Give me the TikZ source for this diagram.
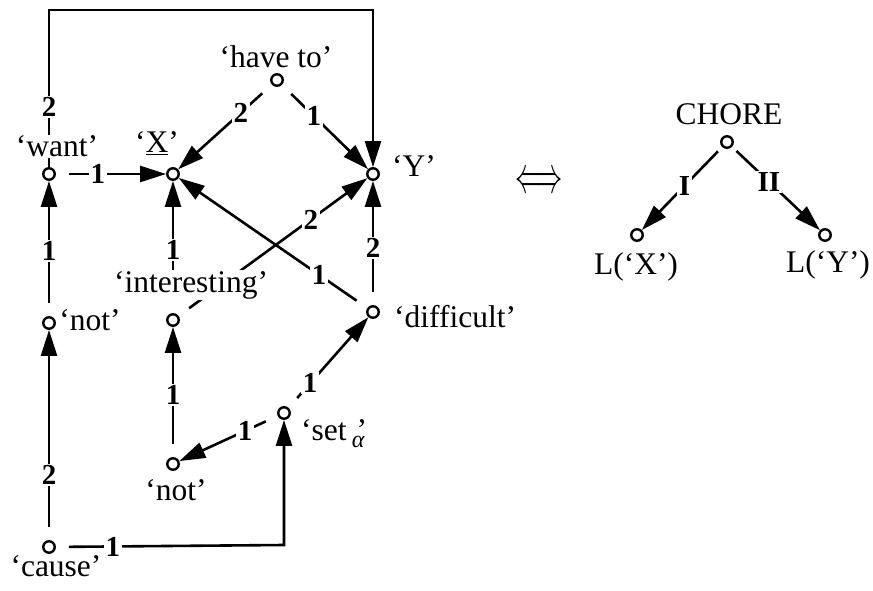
\documentclass[tikz,border=0pt]{standalone}
\usepackage{fontspec}
\setmainfont{Liberation Serif}
\usetikzlibrary{arrows.meta}
\begin{document}
\begin{tikzpicture}[x=1pt,y=-1pt,
  dot/.style={circle,draw,line width=2.4pt,minimum size=11.5pt,inner sep=0pt,fill=white},
  conn/.style={line width=2.6pt,-{Triangle[length=26pt,width=16pt]},shorten <=13pt},
  lab/.style={font=\fontsize{29}{29}\selectfont\bfseries,fill=white,inner sep=1.5pt},
  txt/.style={font=\fontsize{31.5}{31.5}\selectfont,anchor=base,inner sep=1pt}]
\useasboundingbox (0,0) rectangle (873,591);
% nodes
\node[dot] (want) at (49,174) {};
\node[dot] (X) at (173,174) {};
\node[dot] (have) at (277,80) {};
\node[dot] (Y) at (373,174) {};
\node[dot] (not1) at (49,323) {};
\node[dot] (int) at (173,320) {};
\node[dot] (diff) at (373,312) {};
\node[dot] (set) at (284,413) {};
\node[dot] (not2) at (173,464) {};
\node[dot] (cause) at (49,547) {};
\node[dot] (chore) at (727,142) {};
\node[dot] (lx) at (637,235) {};
\node[dot] (ly) at (825,235) {};
\coordinate (tl) at (49,10);
\coordinate (tr) at (373,10);
\coordinate (corner) at (284,545);
% connectors
\draw[conn,shorten <=0pt] (want) -- node[lab,pos=0.38]{2} (tl) -- (tr) -- (Y);
\draw[conn] (want) -- node[lab,pos=0.38]{1} (X);
\draw[conn] (have) -- node[lab,pos=0.33]{2} (X);
\draw[conn] (have) -- node[lab,pos=0.37]{1} (Y);
\draw[conn] (not1) -- node[lab,pos=0.48]{1} (want);
\draw[conn] (int) -- node[lab,pos=0.48]{1} (X);
\draw[conn] (int) -- node[lab,pos=0.70]{2} (Y);
\draw[conn] (diff) -- node[lab,pos=0.46]{2} (Y);
\draw[conn] (diff) -- node[lab,pos=0.255]{1} (X);
\draw[conn] (not2) -- node[lab,pos=0.48]{1} (int);
\draw[conn] (set) -- node[lab,pos=0.27]{1} (diff);
\draw[conn] (set) -- node[lab,pos=0.33]{1} (not2);
\draw[conn] (cause) -- node[lab,pos=0.31]{2} (not1);
\draw[conn] (cause) -- node[lab,pos=0.25]{1} (corner) -- (set);
\draw[conn,shorten <=6pt] (chore) -- node[lab,pos=0.47]{I} (lx);
\draw[conn,shorten <=6pt] (chore) -- node[lab,pos=0.42]{II} (ly);
% texts
\node[txt] (thave) at (276,68) {‘have to’};
\node[txt,fill=white] (twant) at (57,157) {‘want’};
\node[txt] (tX) at (157,153) {‘\underline{X}’};
\node[txt] (tY) at (414,176) {‘Y’};
\node[txt,fill=white] (tint) at (191,292) {‘interesting’};
\node[txt] (tnot1) at (90,330) {‘not’};
\node[txt,anchor=base west] (tdiff) at (393,327) {‘difficult’};
\node[txt,anchor=base west] (tset) at (300,440) {‘set\,\raisebox{-7pt}{\fontsize{24}{24}\selectfont\itshape α}\kern-8pt’};
\node[txt] (tnot2) at (176,500) {‘not’};
\node[txt] (tcause) at (56,576) {‘cause’};
\node[txt] (tchore) at (729,125) {CHORE};
\node[txt] (tlx) at (636,274) {L(‘X’)};
\node[txt] (tly) at (828,272) {L(‘Y’)};
\node[inner sep=0pt] (iff) at (539,183) {\resizebox{48pt}{19pt}{$\Longleftrightarrow$}};
\end{tikzpicture}
\end{document}
